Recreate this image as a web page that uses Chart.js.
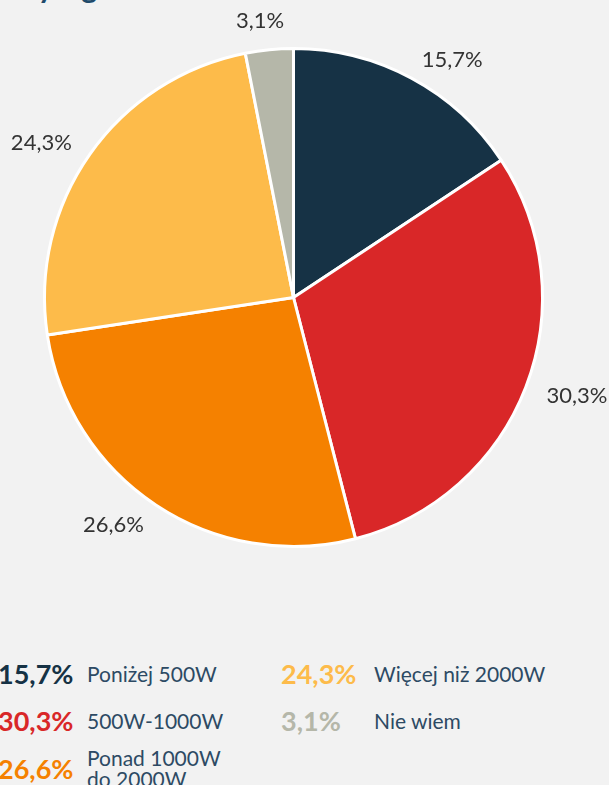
<!DOCTYPE html>
<html>
<head>
<meta charset="utf-8">
<script src="https://cdn.jsdelivr.net/npm/chart.js@4/dist/chart.umd.min.js"></script>
<style>
  html, body { margin: 0; padding: 0; background: #f2f2f2; width: 609px; height: 785px; overflow: hidden; position: relative; font-family: Lato, "Open Sans", sans-serif; }
  #title { position: absolute; left: -21px; top: -29px; font-size: 30px; line-height: 30px; font-weight: bold; color: #204a6b; white-space: nowrap; }
  #wrap { position: absolute; left: 0; top: 0; width: 609px; height: 600px; }
  .item { position: absolute; height: 48px; display: flex; align-items: center; }
  .pct { position: absolute; font-size: 27px; font-weight: bold; white-space: nowrap; }
  .lab { position: absolute; font-size: 21px; line-height: 21px; color: #2d4a64; }
</style>
</head>
<body>
<div id="title">Który z generatorów</div>
<div id="wrap"><canvas id="c"></canvas></div>
<div id="legend"></div>
<script>
const categories = ['Poniżej 500W', '500W-1000W', 'Ponad 1000W do 2000W', 'Więcej niż 2000W', 'Nie wiem'];
const values = [15.7, 30.3, 26.6, 24.3, 3.1];
const colors = ['#163245', '#d92728', '#f58100', '#fdbb4a', '#b5b7a9'];

const fmt = v => v.toFixed(1).replace('.', ',') + '%';

const outsideLabels = {
  id: 'outsideLabels',
  afterDatasetsDraw(chart) {
    const ctx = chart.ctx;
    const meta = chart.getDatasetMeta(0);
    ctx.save();
    ctx.font = '22px Lato';
    ctx.fillStyle = '#333333';
    ctx.textAlign = 'center';
    ctx.textBaseline = 'middle';
    meta.data.forEach((arc, i) => {
      const p = arc.getProps(['x', 'y', 'startAngle', 'endAngle', 'outerRadius'], true);
      const mid = (p.startAngle + p.endAngle) / 2;
      const R = p.outerRadius + 22;
      const ax = p.x + Math.cos(mid) * R;
      const ay = p.y + Math.sin(mid) * R;
      const t = fmt(values[i]);
      const w = ctx.measureText(t).width;
      const h = 17;
      const s = Math.cos(mid);
      const c = Math.sin(mid);
      const kx = Math.max(-1, Math.min(1, s * 3));
      const ky = Math.max(0, Math.min(1, (Math.abs(c) - 0.9) * 10)) * Math.sign(c);
      ctx.fillText(t, ax + kx * w / 2, ay + ky * h / 2 + 1);
    });
    ctx.restore();
  }
};

new Chart(document.getElementById('c'), {
  type: 'pie',
  data: {
    labels: categories,
    datasets: [{
      data: values,
      backgroundColor: colors,
      borderColor: '#ffffff',
      borderWidth: 3
    }]
  },
  options: {
    responsive: true,
    maintainAspectRatio: false,
    animation: false,
    layout: { padding: { top: 47, bottom: 52, left: 0, right: 22 } },
    plugins: { legend: { display: false }, tooltip: { enabled: false } }
  },
  plugins: [outsideLabels]
});

// HTML legend built from the data arrays
const legend = document.getElementById('legend');
const cols = [{ pct: -2, lab: 87, w: 150 }, { pct: 281, lab: 374, w: 230 }];
const rowCenters = [673, 720, 768];
categories.forEach((name, i) => {
  const col = i < 3 ? 0 : 1;
  const row = i < 3 ? i : i - 3;
  const item = document.createElement('div');
  item.className = 'item';
  item.style.top = (rowCenters[row] - 24) + 'px';
  item.style.left = '0px';
  item.style.width = '609px';
  const pct = document.createElement('span');
  pct.className = 'pct';
  pct.style.left = cols[col].pct + 'px';
  pct.style.color = colors[i];
  pct.textContent = fmt(values[i]);
  const lab = document.createElement('span');
  lab.className = 'lab';
  lab.style.left = cols[col].lab + 'px';
  lab.style.width = cols[col].w + 'px';
  lab.textContent = name;
  item.appendChild(pct);
  item.appendChild(lab);
  legend.appendChild(item);
});
</script>
</body>
</html>
